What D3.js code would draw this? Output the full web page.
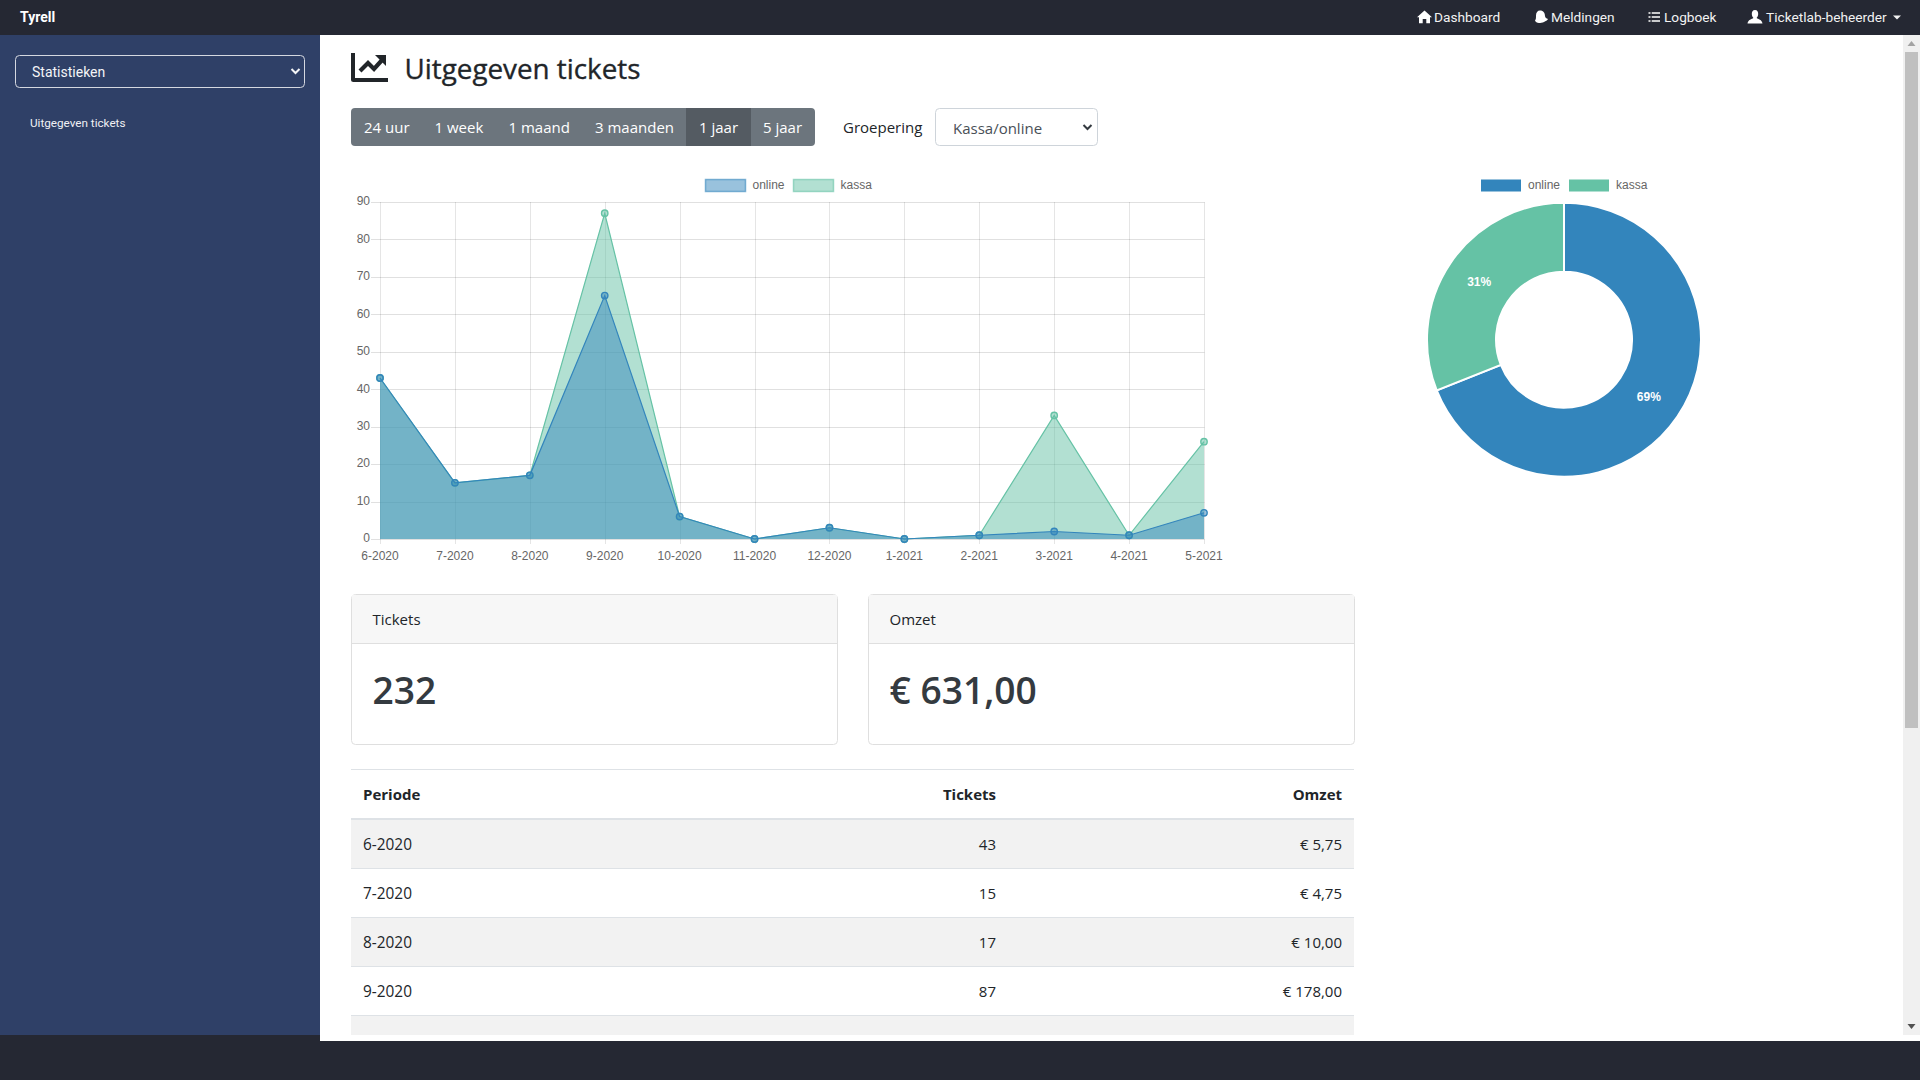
<!DOCTYPE html>
<html>
<head>
<meta charset="utf-8">
<title>Uitgegeven tickets</title>
<script src="https://cdn.jsdelivr.net/npm/d3@7"></script>
<style>
  html, body { margin: 0; padding: 0; background: #fff; overflow: hidden; }
  svg { display: block; }
  text { font-family: "Open Sans", sans-serif; }
  .nav text { font-family: Roboto, sans-serif; }
  .plot text { font-family: "Liberation Sans", Arial, sans-serif; }
</style>
</head>
<body>
<svg id="page" width="1920" height="1080"></svg>
<script>
// chart data
const periods = ["6-2020", "7-2020", "8-2020", "9-2020", "10-2020", "11-2020", "12-2020", "1-2021", "2-2021", "3-2021", "4-2021", "5-2021"];
const online = [43, 15, 17, 65, 6, 0, 3, 0, 1, 2, 1, 7];
const kassa = [0, 0, 0, 22, 0, 0, 0, 0, 0, 31, 0, 19];
const seriesNames = ["online", "kassa"];
const yTicks = [0, 10, 20, 30, 40, 50, 60, 70, 80, 90];

// table rows that are visible
const tablePeriods = ["6-2020", "7-2020", "8-2020", "9-2020"];
const tableTickets = ["43", "15", "17", "87"];
const tableOmzet = ["€ 5,75", "€ 4,75", "€ 10,00", "€ 178,00"];

// page texts
const navItems = ["Dashboard", "Meldingen", "Logboek", "Ticketlab-beheerder"];
const navTextX = [1434, 1551, 1664, 1766];
const rangeLabels = ["24 uur", "1 week", "1 maand", "3 maanden", "1 jaar", "5 jaar"];
const rangeTextX = [364, 434.5, 508.5, 595, 699, 763];

const blue = "#3385bc";
const green = "#65c2a5";
const dark = "#252833";

const svg = d3.select("#page");

function rect(parent, x, y, w, h, fill, stroke, rx) {
  return parent.append("rect")
    .attr("x", x).attr("y", y).attr("width", w).attr("height", h)
    .attr("fill", fill).attr("stroke", stroke || "none").attr("rx", rx || 0);
}

function label(parent, str, x, y, size, color, weight, anchor) {
  return parent.append("text")
    .attr("x", x).attr("y", y)
    .attr("font-size", size).attr("fill", color)
    .attr("font-weight", weight || 400)
    .attr("text-anchor", anchor || "start")
    .text(str);
}

////// page frame //////
rect(svg, 0, 1041, 1920, 39, dark);
rect(svg, 0, 1035, 320, 6, dark);
rect(svg, 0, 35, 320, 1000, "#2f4067");
rect(svg, 0, 0, 1920, 35, dark);

// scrollbar
rect(svg, 1903, 35, 17, 1000, "#f0f0f0");
rect(svg, 1905, 52, 13, 676, "#c0c0c0");
svg.append("path").attr("d", "M1911.5 41l4 5h-8z").attr("fill", "#a3a3a3");
svg.append("path").attr("d", "M1911.5 1029l-4 -5h8z").attr("fill", "#505050");

////// navbar //////
const nav = svg.append("g").attr("class", "nav");
label(nav, "Tyrell", 20, 22, 14, "#fff", 700);
navItems.forEach((d, i) => label(nav, d, navTextX[i], 22, 13.7, "#f2f2f2"));
nav.append("path").attr("d", "M1893 15.5h8l-4 4z").attr("fill", "#f2f2f2");
// home, bell, list and user glyphs
nav.append("path").attr("fill", "#fff").attr("d", "M1424.5 10.5l7.5 6.8h-2v6h-3.7v-4.3h-3.6v4.3h-3.7v-6h-2z");
nav.append("path").attr("fill", "#fff").attr("d", "M1540 10.5c3.5 0 5 2.5 5 5.5 0 1.5 1.5 2.5 3 3-1.5 2.5-6 4-9 4-2 0-3.5-1-4-2.5 1-1 1-3 1-5 0-3 1.5-5 4-5z");
nav.append("path").attr("stroke", "#fff").attr("stroke-width", 1.6).attr("stroke-dasharray", "2 1.2 9 40")
  .attr("d", "M1648.5 13h11.5M1648.5 17h11.5M1648.5 21h11.5");
nav.append("path").attr("fill", "#fff").attr("d", "M1755 10c2.4 0 3.2 2 3.2 4 0 2-1 3.3-1.6 4 1.5 1.3 5.4 1.5 5.9 5.5h-15c.5-4 4.4-4.2 5.9-5.5-.6-.7-1.6-2-1.6-4 0-2 .8-4 3.2-4z");

////// sidebar //////
const side = svg.append("g").attr("class", "nav");
rect(side, 15.5, 55.5, 289, 32, "none", "#d5d8e0", 4);
label(side, "Statistieken", 32, 76.5, 14, "#f4f5f7");
side.append("path").attr("d", "M291.5 69l4 4 4-4").attr("fill", "none").attr("stroke", "#f4f5f7").attr("stroke-width", 2);
label(side, "Uitgegeven tickets", 30, 127, 11.7, "#f0f1f4");

////// title + controls //////
svg.append("path").attr("fill", "#212529").attr("d", "M351 53h4v25h33v4h-34.5q-2.5 0-2.5-2.5z");
svg.append("path").attr("fill", "none").attr("stroke", "#212529").attr("stroke-width", 4.2).attr("d", "M360 71l8-8 6 6 9-10");
svg.append("path").attr("fill", "#212529").attr("d", "M375 55h11v11z");
label(svg, "Uitgegeven tickets", 404.5, 79, 27.8, "#212529", 500)
  .attr("stroke", "#212529").attr("stroke-width", 0.35);

rect(svg, 351, 108, 464, 38, "#6c757d", null, 4);
rect(svg, 686, 108, 65, 38, "#545b62");
rangeLabels.forEach((d, i) => label(svg, d, rangeTextX[i], 133, 15, "#fff"));

label(svg, "Groepering", 843, 133, 15, "#212529");
rect(svg, 935.5, 108.5, 162, 37, "#fff", "#ced4da", 4);
label(svg, "Kassa/online", 953, 134, 15, "#495057");
svg.append("path").attr("d", "M1083.5 125l4 4 4-4").attr("fill", "none").attr("stroke", "#343a40").attr("stroke-width", 2);

////// line chart //////
const plot = svg.append("g").attr("class", "plot");
const x = d3.scalePoint().domain(periods).range([380, 1204]);
const y = d3.scaleLinear().domain([0, 90]).range([539, 202]);

// gridlines
plot.append("g").selectAll("line").data(yTicks).join("line")
  .attr("x1", 371).attr("x2", x.range()[1] + 0.5)
  .attr("y1", d => Math.round(y(d)) + 0.5).attr("y2", d => Math.round(y(d)) + 0.5)
  .attr("stroke", "rgba(0,0,0,0.12)");
plot.append("g").selectAll("line").data(periods).join("line")
  .attr("x1", d => Math.round(x(d)) + 0.5).attr("x2", d => Math.round(x(d)) + 0.5)
  .attr("y1", 202).attr("y2", 544)
  .attr("stroke", "rgba(0,0,0,0.1)");

// stacked like chart.js does it, every area still fills down to zero
const stacked = d3.stack().keys(seriesNames)(periods.map((p, i) => ({ period: p, online: online[i], kassa: kassa[i] })));
const seriesColor = d3.scaleOrdinal().domain(seriesNames).range([blue, green]);

const area = d3.area().x(d => x(d.data.period)).y0(y(0)).y1(d => y(d[1]));
const line = d3.line().x(d => x(d.data.period)).y(d => y(d[1]));

const drawOrder = [stacked[1], stacked[0]];
drawOrder.forEach(s => {
  plot.append("path").datum(s).attr("d", area).attr("fill", seriesColor(s.key)).attr("fill-opacity", 0.5);
});
drawOrder.forEach(s => {
  plot.append("path").datum(s).attr("d", line).attr("fill", "none")
    .attr("stroke", seriesColor(s.key)).attr("stroke-width", 1.2);
  plot.append("g").selectAll("circle").data(s).join("circle")
    .attr("cx", d => x(d.data.period)).attr("cy", d => y(d[1])).attr("r", 3.2)
    .attr("fill", seriesColor(s.key)).attr("fill-opacity", 0.5)
    .attr("stroke", seriesColor(s.key)).attr("stroke-width", 1.4);
});

// axes, labels only
const yAxis = plot.append("g").attr("transform", "translate(380,-1)")
  .call(d3.axisLeft(y).tickValues(yTicks).tickSize(9).tickPadding(1));
const xAxis = plot.append("g").attr("transform", "translate(-0.5,539)")
  .call(d3.axisBottom(x).tickSize(5).tickPadding(7.5));
[yAxis, xAxis].forEach(a => {
  a.select(".domain").remove();
  a.selectAll(".tick line").remove();
  a.selectAll("text").attr("fill", "#666").attr("font-size", 12).attr("font-family", "Liberation Sans");
});

// legends
function legend(parent, boxX, solid) {
  seriesNames.forEach((name, i) => {
    const bx = boxX + i * 88;
    const box = parent.append("rect").attr("x", bx).attr("y", 179.5).attr("width", 40).attr("height", 12)
      .attr("fill", seriesColor(name));
    if (!solid) box.attr("fill-opacity", 0.5).attr("stroke", seriesColor(name)).attr("stroke-opacity", 0.6).attr("stroke-width", 1.5);
    label(parent, name, bx + 47, 189, 12, "#666");
  });
}
legend(plot, 705.5, false);

////// donut //////
const donut = svg.append("g").attr("class", "plot");
legend(donut, 1481, true);

const donutValues = [d3.sum(online), d3.sum(kassa)];
const pie = d3.pie().sort(null)(donutValues);
const arc = d3.arc().innerRadius(68).outerRadius(137);
const donutG = donut.append("g").attr("transform", "translate(1564,339.7)");
donutG.selectAll("path").data(pie).join("path")
  .attr("d", arc)
  .attr("fill", (d, i) => seriesColor(seriesNames[i]))
  .attr("stroke", "#fff").attr("stroke-width", 2);
donutG.selectAll("text").data(pie).join("text")
  .attr("transform", d => `translate(${arc.centroid(d)})`)
  .attr("text-anchor", "middle").attr("dy", "0.3em")
  .attr("font-size", 12).attr("font-weight", 700).attr("fill", "#fff")
  .text(d => d3.format(".0%")(d.value / d3.sum(donutValues)));

////// cards //////
const cardTitles = ["Tickets", "Omzet"];
const cardValues = [d3.sum(online) + d3.sum(kassa), "€ 631,00"];
const cardX = [351.5, 868.5];
cardTitles.forEach((t, i) => {
  const c = svg.append("g");
  rect(c, cardX[i], 594.5, 486, 150, "#fff", "#dfdfdf", 4);
  rect(c, cardX[i] + 0.5, 595, 485, 48, "#f7f7f7");
  c.append("line").attr("x1", cardX[i]).attr("x2", cardX[i] + 486).attr("y1", 643.5).attr("y2", 643.5).attr("stroke", "#dfdfdf");
  label(c, t, cardX[i] + 21, 625, 15, "#212529");
  label(c, cardValues[i], cardX[i] + 21, 704, 37.2, "#343a40", 600);
});

////// table //////
const table = svg.append("g");
const tableLeft = 351, tableRight = 1354;
const rowY = d3.scaleBand().domain(tablePeriods).range([820, 1016]);

function hline(yPos, color, w) {
  table.append("line").attr("x1", tableLeft).attr("x2", tableRight)
    .attr("y1", yPos).attr("y2", yPos).attr("stroke", color).attr("stroke-width", w || 1);
}

tablePeriods.forEach((p, i) => {
  if (i % 2 === 0) rect(table, tableLeft, rowY(p), tableRight - tableLeft, rowY.bandwidth(), "#f2f2f2");
});
rect(table, tableLeft, 1016, tableRight - tableLeft, 19, "#f2f2f2");
hline(769.5, "#dee2e6");
hline(819, "#dee2e6", 2);
tablePeriods.forEach(p => hline(rowY(p) + rowY.bandwidth() - 0.5, "#dee2e6"));

label(table, "Periode", 363, 800, 15, "#212529", 700);
label(table, "Tickets", 996, 800, 15, "#212529", 700, "end");
label(table, "Omzet", 1342, 800, 15, "#212529", 700, "end");
tablePeriods.forEach((p, i) => {
  const base = rowY(p) + 30;
  label(table, p, 363, base, 15.4, "#212529");
  label(table, tableTickets[i], 996, base, 15, "#212529", 400, "end");
  label(table, tableOmzet[i], 1342, base, 15, "#212529", 400, "end");
});
</script>
</body>
</html>
